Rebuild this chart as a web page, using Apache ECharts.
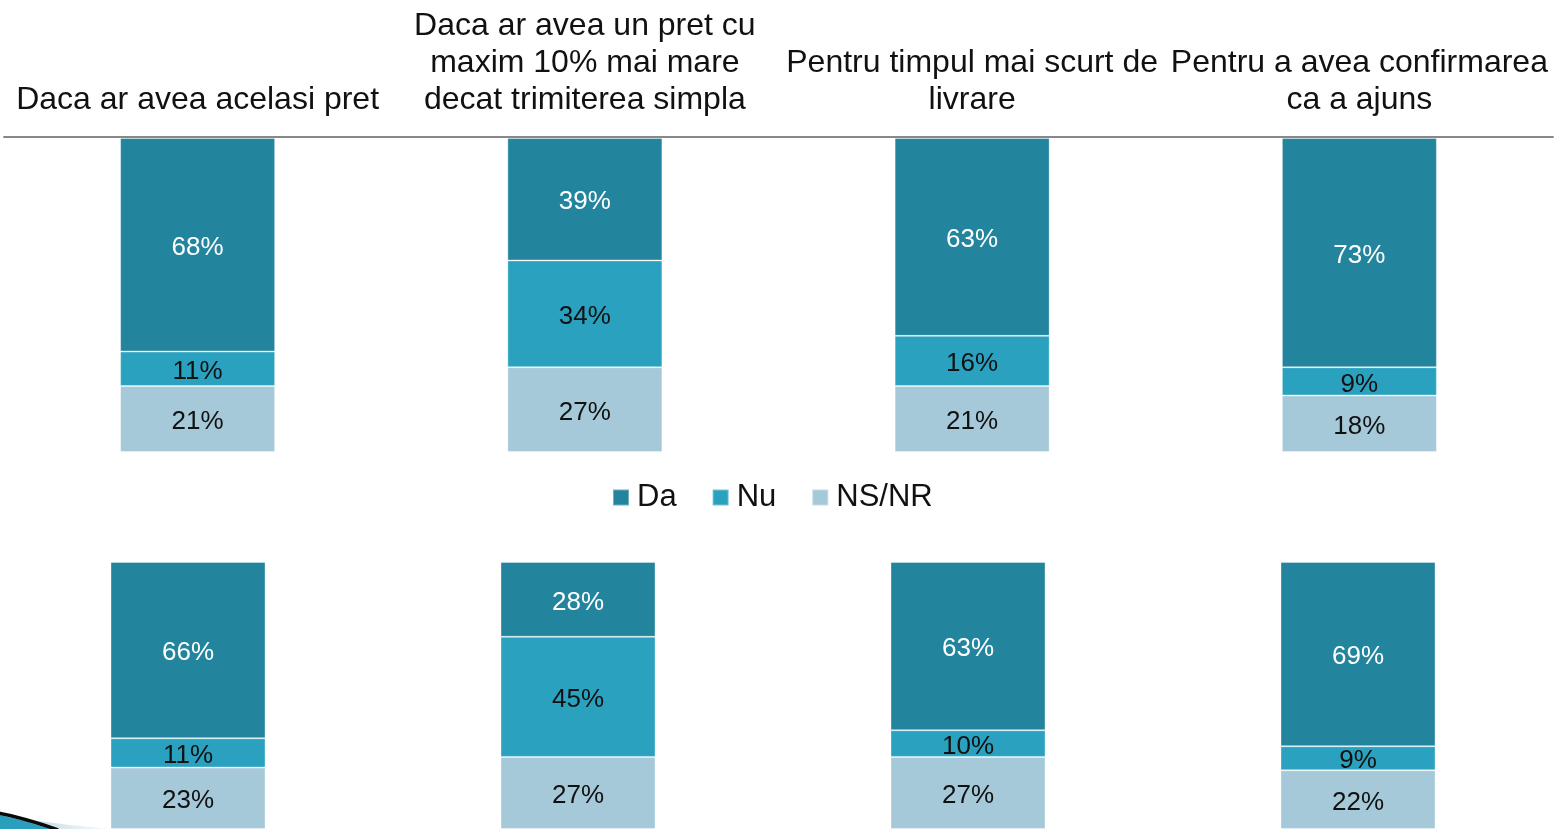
<!DOCTYPE html>
<html>
<head>
<meta charset="utf-8">
<script src="https://cdn.jsdelivr.net/npm/echarts@6/dist/echarts.min.js"></script>
<style>
  html, body { margin: 0; padding: 0; background: #ffffff; overflow: hidden; }
  /* the canvas starts slightly left of the page so the lower row can sit flush with it */
  #chart { position: absolute; left: -7px; top: 0; width: 1563px; height: 829px; }
</style>
</head>
<body>
<div id="chart"></div>
<script>
// Question headers (one per column)
const categories = [
  'Daca ar avea acelasi pret',
  'Daca ar avea un pret cu\nmaxim 10% mai mare\ndecat trimiterea simpla',
  'Pentru timpul mai scurt de\nlivrare',
  'Pentru a avea confirmarea\nca a ajuns'
];
const seriesNames = ['Da', 'Nu', 'NS/NR'];

// Upper row of answers (%)
const topDa = [68, 39, 63, 73];
const topNu = [11, 34, 16, 9];
const topNs = [21, 27, 21, 18];

// Lower row of answers (%)
const bottomDa = [66, 28, 63, 69];
const bottomNu = [11, 45, 10, 9];
const bottomNs = [23, 27, 27, 22];

const colors = { 'Da': '#22849d', 'Nu': '#2aa2bf', 'NS/NR': '#a5c9d8' };
const labelColors = { 'Da': '#ffffff', 'Nu': '#111111', 'NS/NR': '#111111' };
const FONT = 'Liberation Sans, Arial, sans-serif';
const SHIFT = 7; // horizontal offset of the canvas

function barSeries(name, data, gridIdx) {
  return {
    name: name,
    type: 'bar',
    stack: 'row' + gridIdx,
    xAxisIndex: gridIdx,
    yAxisIndex: gridIdx,
    barWidth: 155,
    data: data,
    itemStyle: { color: colors[name], borderColor: 'rgba(255,255,255,0.35)', borderWidth: 1 },
    label: {
      show: true,
      position: 'inside',
      offset: [0, 3],
      formatter: '{c}%',
      color: labelColors[name],
      fontFamily: FONT,
      fontSize: 26
    },
    emphasis: { disabled: true },
    animation: false
  };
}

const chart = echarts.init(document.getElementById('chart'), null, { renderer: 'canvas' });

chart.setOption({
  backgroundColor: '#ffffff',
  animation: false,
  grid: [
    { left: 4 + SHIFT, right: 3, top: 138, bottom: 377 },
    { left: 0, right: 3, top: 562, bottom: -1 }
  ],
  xAxis: [
    {
      type: 'category',
      gridIndex: 0,
      position: 'top',
      offset: 1,
      data: categories,
      axisLine: { show: true, onZero: false, lineStyle: { color: '#888888', width: 2 } },
      axisTick: { show: false },
      axisLabel: {
        interval: 0,
        margin: 18,
        color: '#111111',
        fontFamily: FONT,
        fontSize: 32,
        lineHeight: 37
      }
    },
    {
      type: 'category',
      gridIndex: 1,
      data: categories,
      show: false
    }
  ],
  yAxis: [
    { type: 'value', gridIndex: 0, min: 0, max: 100, show: false },
    { type: 'value', gridIndex: 1, min: 0, max: 100, show: false }
  ],
  legend: {
    data: seriesNames,
    top: 482,
    left: 612 + SHIFT,
    padding: 0,
    itemWidth: 16,
    itemHeight: 16,
    itemGap: 35,
    icon: 'rect',
    textStyle: { color: '#111111', fontFamily: FONT, fontSize: 31, padding: [0, 0, 0, 3] }
  },
  series: [
    barSeries('NS/NR', topNs, 0),
    barSeries('Nu', topNu, 0),
    barSeries('Da', topDa, 0),
    barSeries('NS/NR', bottomNs, 1),
    barSeries('Nu', bottomNu, 1),
    barSeries('Da', bottomDa, 1)
  ],
  graphic: [
    // decorative swoosh in the lower-left corner
    {
      type: 'polygon',
      z: 100,
      shape: { points: [[SHIFT + 15, 818], [SHIFT + 70, 825], [SHIFT + 112, 829], [SHIFT + 50, 829]] },
      style: {
        fill: new echarts.graphic.LinearGradient(0, 0, 1, 0, [
          { offset: 0, color: 'rgba(160,195,212,0.9)' },
          { offset: 1, color: 'rgba(225,238,244,0.3)' }
        ])
      }
    },
    {
      type: 'polygon',
      z: 100,
      shape: { points: [[0, 815], [SHIFT, 815], [SHIFT + 25, 821], [SHIFT + 50, 829], [0, 829]] },
      style: { fill: '#2a9fbd' }
    },
    {
      type: 'bezierCurve',
      z: 101,
      shape: { x1: 0, y1: 812, cpx1: SHIFT + 25, cpy1: 818, x2: SHIFT + 58, y2: 830 },
      style: { stroke: '#0a0a0a', lineWidth: 3.5, fill: null }
    }
  ]
});
</script>
</body>
</html>
